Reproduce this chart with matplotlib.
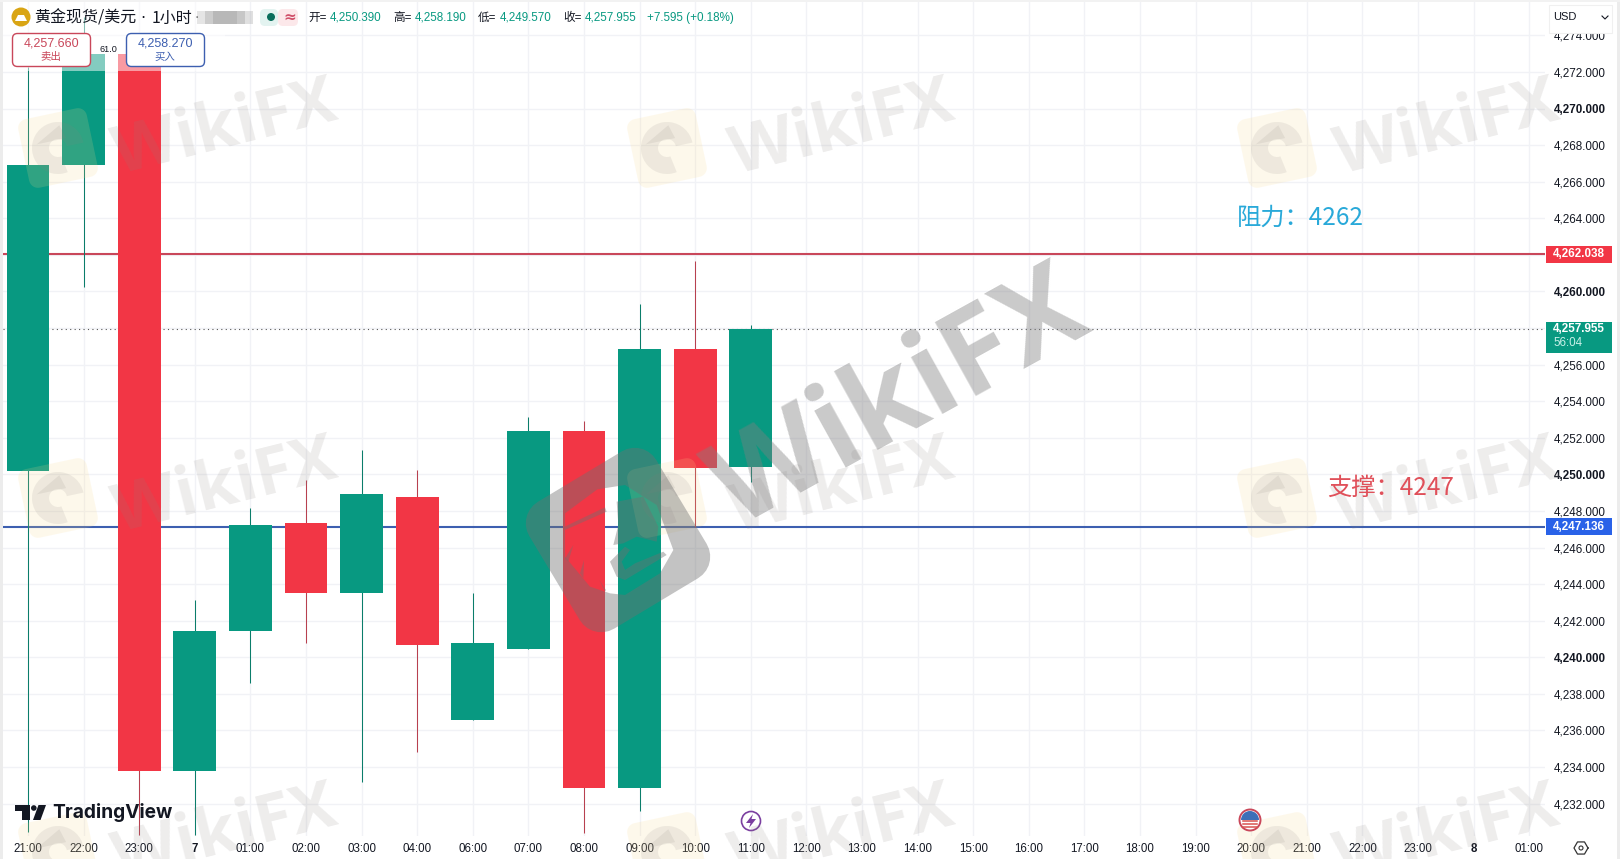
import numpy as np
import matplotlib
matplotlib.use("Agg")
import matplotlib.pyplot as plt
import matplotlib.patches as mpatches
from matplotlib.path import Path
from matplotlib.transforms import Affine2D, blended_transform_factory

# dane
time_labels = ["21:00", "22:00", "23:00", "7", "01:00", "02:00", "03:00", "04:00", "06:00", "07:00",
               "08:00", "09:00", "10:00", "11:00", "12:00", "13:00", "14:00", "15:00", "16:00", "17:00",
               "18:00", "19:00", "20:00", "21:00", "22:00", "23:00", "8", "01:00"]
opens = [4250.16, 4266.94, 4272.98, 4233.78, 4241.46, 4247.34, 4243.50, 4248.75, 4236.55, 4240.44,
         4252.36, 4232.87, 4256.88, 4250.39]
closes = [4266.94, 4272.98, 4233.78, 4241.46, 4247.22, 4243.50, 4248.92, 4240.67, 4240.78, 4252.36,
          4232.87, 4256.88, 4250.33, 4257.955]
highs = [4272.25, 4275.00, 4273.50, 4243.16, 4248.18, 4249.71, 4251.35, 4250.22, 4243.50, 4253.16,
         4252.93, 4259.31, 4261.68, 4258.19]
lows = [4230.45, 4260.22, 4230.28, 4230.28, 4238.58, 4240.78, 4233.16, 4234.80, 4236.55, 4240.44,
        4230.39, 4231.58, 4247.11, 4249.57]
price_ticks = list(range(4232, 4276, 2))
hidden_ticks = [4258, 4262]  # pod etykietami cen
resistance = 4262.038
support = 4247.136
last_price = 4257.955

GREEN = "#089981"
RED = "#f23645"
FONT = ["Liberation Sans", "Noto Sans CJK SC"]
CJK = ["Noto Sans CJK SC", "DejaVu Sans"]
W, H = 1620, 859

plt.rcParams["font.family"] = FONT
fig = plt.figure(figsize=(W / 100, H / 100), dpi=100, facecolor="white")

# glowny wykres, granice osi w pikselach: x 3..1545, y 0..836
ax = fig.add_axes([3 / W, 1 - 836 / H, (1545 - 3) / W, 836 / H])
ax.set_xlim((3 - 28) / 55.6, (1545 - 28) / 55.6)
ax.set_ylim(4270 - (836 - 108.6) / 18.29, 4270 + 108.6 / 18.29)
for s in ax.spines.values():
    s.set_visible(False)
ax.set_axisbelow(True)
ax.grid(True, color="#f1f2f6", lw=1)

xs = np.arange(len(opens))
colors = [GREEN if c >= o else RED for o, c in zip(opens, closes)]
wick_colors = ["#0b7d6a" if c >= o else "#b8404f" for o, c in zip(opens, closes)]
ax.axhline(resistance, color="#c9475a", lw=1.5, zorder=2)
ax.axhline(support, color="#3d5fb0", lw=1.5, zorder=2)
ax.axhline(last_price, color="#555555", lw=0.8, ls=(0, (1, 3)), zorder=2)
ax.vlines(xs, lows, highs, colors=wick_colors, lw=0.75, zorder=3)
ax.bar(xs, np.abs(np.array(closes) - np.array(opens)), bottom=np.minimum(opens, closes),
       width=0.77, color=colors, zorder=4)

ax.set_xticks(np.arange(len(time_labels)))
ax.set_xticklabels(time_labels, fontsize=8.3, color="#131722")
for lab in ax.get_xticklabels():
    if len(lab.get_text()) == 1:
        lab.set_fontweight("bold")
ax.yaxis.tick_right()
ax.set_yticks(price_ticks)
ax.set_yticklabels(["" if p in hidden_ticks else f"{p:,.3f}" for p in price_ticks], fontsize=8.4, color="#131722")
for lab, p in zip(ax.get_yticklabels(), price_ticks):
    if p % 10 == 0:
        lab.set_fontweight("bold")
ax.tick_params(axis="both", length=0)
ax.tick_params(axis="y", pad=6.5)
ax.tick_params(axis="x", pad=5)

# warstwa w pikselach na dodatki
ov = fig.add_axes([0, 0, 1, 1], zorder=5)
ov.set_xlim(0, W)
ov.set_ylim(H, 0)
ov.axis("off")
ov.patch.set_alpha(0)


def rounded_square(a, r, n=8):
    pts = []
    for cx, cy, start in [(a - r, a - r, 0), (r - a, a - r, 90), (r - a, r - a, 180), (a - r, r - a, 270)]:
        for t in np.radians(np.linspace(start, start + 90, n)):
            pts.append((cx + r * np.cos(t), cy + r * np.sin(t)))
    return np.array(pts)


def signed_area(p):
    x, y = p[:, 0], p[:, 1]
    return 0.5 * np.sum(x * np.roll(y, -1) - np.roll(x, -1) * y)


def zoomed(points):
    # wspolrzedne z powiekszenia (3x, od punktu 510,430) na piksele
    return np.array(points, dtype=float) / 3 + np.array([510, 430])


# znaki wodne
for tx in [225, 842, 1447]:
    for ty in [130, 488, 835]:
        ov.text(tx, ty, "WikiFX", fontsize=48, fontweight="bold", family="Open Sans", color="#8a8480",
                alpha=0.15, rotation=14, ha="center", va="center", rotation_mode="anchor")
for lx in [58, 667, 1277]:
    for ly in [148, 498, 852]:
        tr = Affine2D().rotate_deg(-12).translate(lx, ly) + ov.transData
        ov.add_patch(mpatches.PathPatch(Path(rounded_square(35, 9)), transform=tr, fc="#f9d98a",
                                        ec="none", alpha=0.17))
        ov.add_patch(mpatches.Wedge((0, 0), 26, 80, 360, width=17, transform=tr, fc="#8a8480",
                                    ec="none", alpha=0.13))
        ov.add_patch(mpatches.Polygon([(-20, -8), (6, -22), (10, -8)], transform=tr, fc="#8a8480",
                                      ec="none", alpha=0.13))

ov.text(900, 402, "WikiFX", fontsize=86, fontweight="bold", family="Open Sans", color="#808080",
        alpha=0.42, rotation=29, ha="center", va="center", rotation_mode="anchor")

# duze logo: pierscien z otworem i orzel w srodku
LOGO_GRAY = "#707070"
outer = Affine2D().rotate_deg(-31).translate(618, 540).transform(rounded_square(74, 25))
hole = zoomed([(165, 250), (262, 178), (345, 165), (440, 225), (490, 360), (450, 430), (345, 495),
               (300, 490), (240, 470), (165, 380)])
if signed_area(outer) * signed_area(hole) > 0:
    hole = hole[::-1]
ring_verts = np.vstack([outer, outer[:1], hole, hole[:1]])
ring_codes = ([Path.MOVETO] + [Path.LINETO] * (len(outer) - 1) + [Path.CLOSEPOLY]
              + [Path.MOVETO] + [Path.LINETO] * (len(hole) - 1) + [Path.CLOSEPOLY])
ov.add_patch(mpatches.PathPatch(Path(ring_verts, ring_codes), fc=LOGO_GRAY, ec="none", alpha=0.42))
eagle_parts = [
    [(160, 292), (285, 232), (290, 245), (165, 300)],
    [(320, 215), (400, 200), (445, 290), (440, 335), (380, 320), (340, 340), (310, 345), (325, 285)],
    [(345, 350), (300, 395), (320, 440), (345, 450), (470, 375), (460, 365), (375, 400), (345, 420), (335, 395), (360, 360)],
    [(165, 385), (190, 345), (175, 395)],
    [(210, 430), (222, 390), (220, 445)],
    [(268, 450), (288, 480), (285, 485)],
]
for part in eagle_parts:
    ov.add_patch(mpatches.Polygon(zoomed(part), fc=LOGO_GRAY, ec="none", alpha=0.42))

# zaslona pod legenda
ov.add_patch(mpatches.Rectangle((0, 0), 225, 71, fc="white", alpha=0.5, ec="none"))

# legenda u gory
ov.add_patch(mpatches.Circle((21, 17), 9.5, fc="#d9a514", ec="none"))
ov.add_patch(mpatches.Polygon([(15, 21), (27, 21), (24, 15), (18, 15)], fc="white", ec="none"))
ov.text(34, 18, "黄金现货/美元", fontsize=11.5, color="#131722", va="center", family=CJK)
ov.text(140, 18, "·", fontsize=11.5, color="#131722", va="center", family="DejaVu Sans")
ov.text(152, 18, "1小时", fontsize=11.5, color="#131722", va="center", family=CJK)
ov.text(194, 18, "·", fontsize=10, color="#777777", va="center", family="DejaVu Sans")
for i, a in enumerate([0.25, 0.5, 0.7, 0.7, 0.7, 0.55, 0.3]):
    ov.add_patch(mpatches.Rectangle((197 + i * 8, 11), 8, 13, fc="#9a9a9a", alpha=a, ec="none"))
ov.add_patch(mpatches.FancyBboxPatch((260, 9), 18, 17, boxstyle="round,pad=0,rounding_size=5",
                                     fc="#e3f3f0", ec="none"))
ov.add_patch(mpatches.FancyBboxPatch((278, 9), 20, 17, boxstyle="round,pad=0,rounding_size=5",
                                     fc="#fce8ea", ec="none"))
ov.add_patch(mpatches.Circle((271, 17), 4, fc="#0a6e5c", ec="none"))
ov.text(290, 17, "≈", fontsize=11, fontweight="bold", color="#d0506a", ha="center", va="center", family="DejaVu Sans")

ohlc = [("开=", 308, "#131722"), ("4,250.390", 330, GREEN), ("高=", 393, "#131722"), ("4,258.190", 415, GREEN),
        ("低=", 478, "#131722"), ("4,249.570", 500, GREEN), ("收=", 563, "#131722"), ("4,257.955", 585, GREEN),
        ("+7.595 (+0.18%)", 647, GREEN)]
for txt, tx, col in ohlc:
    ov.text(tx, 17.5, txt, fontsize=8.4, color=col, va="center", family=FONT)

# sprzedaj / kup
ov.add_patch(mpatches.FancyBboxPatch((12.5, 33.5), 78, 33, boxstyle="round,pad=0,rounding_size=5",
                                     fc="white", ec="#c9475a", lw=1))
ov.text(51, 43, "4,257.660", fontsize=9, color="#c9475a", ha="center", va="center")
ov.text(51, 57, "卖出", fontsize=7.5, color="#c9475a", ha="center", va="center", family=CJK)
ov.add_patch(mpatches.FancyBboxPatch((126.5, 33.5), 78, 33, boxstyle="round,pad=0,rounding_size=5",
                                     fc="white", ec="#3d5fb0", lw=1))
ov.text(165, 43, "4,258.270", fontsize=9, color="#3d5fb0", ha="center", va="center")
ov.text(165, 57, "买入", fontsize=7.5, color="#3d5fb0", ha="center", va="center", family=CJK)
ov.text(108.5, 49.5, "61.0", fontsize=6.6, color="#131722", ha="center", va="center")

# USD
ov.add_patch(mpatches.Rectangle((1549, 5), 63, 28, fc="white", ec="#f0f0f0", lw=0.8, zorder=6))
ov.text(1553, 17.5, "USD", fontsize=8, color="#131722", va="center", zorder=7)
ov.plot([1602, 1605, 1608], [16, 19, 16], color="#131722", lw=0.8, zorder=7)

# etykiety cen po prawej, y z osi danych
tag = blended_transform_factory(ov.transData, ax.transData)


def price_tag(price, color, text, height=0.93):
    ov.add_patch(mpatches.Rectangle((1546, price - height / 2), 66, height, transform=tag, fc=color,
                                    ec="none", clip_on=False))
    ov.text(1553, price, text, transform=tag, fontsize=8.4, fontweight="bold", color="white", va="center",
            clip_on=False)


price_tag(resistance, RED, f"{resistance:,.3f}")
price_tag(support, "#2962e8", f"{support:,.3f}")
ov.add_patch(mpatches.Rectangle((1546, last_price - 1.31), 66, 1.69, transform=tag, fc=GREEN, ec="none"))
ov.text(1553, last_price, f"{last_price:,.3f}", transform=tag, fontsize=8.4, fontweight="bold", color="white",
        va="center")
ov.text(1553, last_price - 0.77, "56:04", transform=tag, fontsize=8.4, color="#c8f0e8", va="center")

# opisy poziomow, dwukropek pelnej szerokosci
ov.text(1237, 218, "阻力\uff1a4262", fontsize=17.5, color="#29a9d9", va="center", family=CJK, fontweight="light")
ov.text(1327, 488, "支撑\uff1a4247", fontsize=17.5, color="#e0505a", va="center", family=CJK, fontweight="light")

# logo TradingView
ov.add_patch(mpatches.Polygon([(15, 805), (30, 805), (30, 820), (22, 820), (22, 811), (15, 811)], fc="#131722", ec="none"))
ov.add_patch(mpatches.Circle((33.8, 808), 2.8, fc="#131722", ec="none"))
ov.add_patch(mpatches.Polygon([(38.5, 805), (46, 805), (40.5, 820), (33, 820)], fc="#131722", ec="none"))
ov.text(52, 813, "TradingView", fontsize=13.8, fontweight="bold", family="Inter", color="#131722", va="center")

# ikony zdarzen
ov.add_patch(mpatches.Circle((751, 821), 9.5, fc="white", ec="#7b3fa0", lw=1.2))
ov.add_patch(mpatches.Polygon([(753, 814), (746, 823), (750.5, 823), (749, 828), (756, 819), (751.5, 819)], fc="#7b3fa0", ec="none"))
ov.add_patch(mpatches.Circle((1250, 820), 10.5, fc="white", ec="#c9475a", lw=1.4))
ov.add_patch(mpatches.Wedge((1250, 820), 9, 180, 360, fc="#3d6fb8", ec="none"))
for sy in [821, 824, 827]:
    ov.plot([1243, 1257], [sy, sy], color="#d9534f", lw=1.1)

# ustawienia
hx = 1581 + 7 * np.cos(np.radians(np.arange(0, 361, 60)))
hy = 848 + 7 * np.sin(np.radians(np.arange(0, 361, 60)))
ov.plot(hx, hy, color="#333333", lw=0.9)
ov.add_patch(mpatches.Circle((1581, 848), 2, fc="none", ec="#333333", lw=0.8))

# szare brzegi obrazka
ov.add_patch(mpatches.Rectangle((0, 0), 3, H, fc="#ececec", ec="none"))
ov.add_patch(mpatches.Rectangle((1617, 0), 3, H, fc="#ececec", ec="none"))
ov.add_patch(mpatches.Rectangle((0, 0), W, 2, fc="#f2f2f2", ec="none"))

fig.savefig("out.png", dpi=100)
